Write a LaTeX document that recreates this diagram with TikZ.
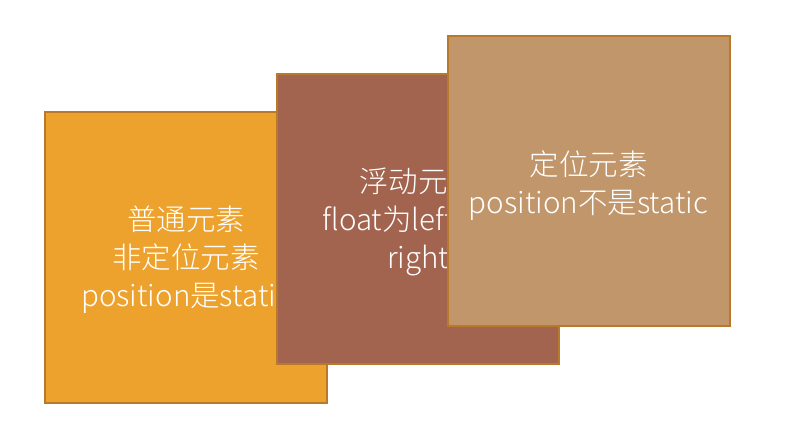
\documentclass[tikz,border=0pt]{standalone}
\usepackage{fontspec}
\setmainfont{Noto Sans CJK SC Light}
\definecolor{edge}{HTML}{B87A2A}
\definecolor{orangefill}{HTML}{EDA22E}
\definecolor{brownfill}{HTML}{A2644F}
\definecolor{tanfill}{HTML}{C2966B}
\tikzset{
  card/.style={draw=edge, line width=2pt, minimum width=282pt, minimum height=290pt, inner sep=0pt},
  cardtext/.style={inner sep=0pt, text=white, align=center, font=\fontsize{29.5}{38}\selectfont},
}
\begin{document}
\begin{tikzpicture}[x=1pt,y=-1pt]
\useasboundingbox (0,0) rectangle (811,425);
\node[card, fill=orangefill] (a) at (186,257.5) {};
\node[cardtext] (at) at (186,259.5) {普通元素\\非定位元素\\position是static};
\node[card, fill=brownfill] (b) at (418,219) {};
\node[cardtext] (bt) at (418,222) {浮动元素\\float为left或者\\right};
\node[card, fill=tanfill] (c) at (588.5,181) {};
\node[cardtext] (ct) at (588.5,185.5) {定位元素\\position不是static};
\end{tikzpicture}
\end{document}
